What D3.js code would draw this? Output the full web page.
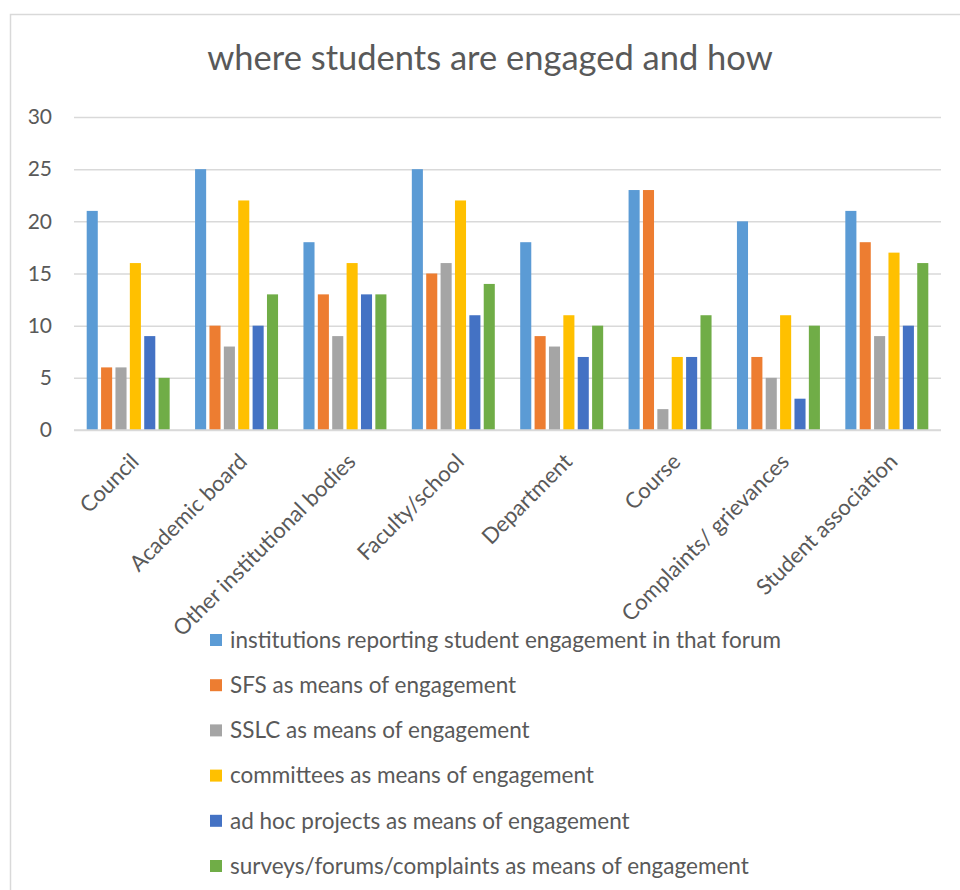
<!DOCTYPE html>
<html>
<head>
<meta charset="utf-8">
<script src="https://cdn.jsdelivr.net/npm/d3@7"></script>
<style>
  html, body { margin: 0; padding: 0; background: #fff; }
  svg { display: block; font-family: Lato, "Open Sans", sans-serif; }
</style>
</head>
<body>
<svg id="chart" width="960" height="890"></svg>
<script>
// Forums where students are engaged
const categories = [
  "Council", "Academic board", "Other institutional bodies", "Faculty/school",
  "Department", "Course", "Complaints/ grievances", "Student association"
];

// Engagement measures (one series each)
const seriesNames = [
  "institutions reporting student engagement in that forum",
  "SFS as means of engagement",
  "SSLC as means of engagement",
  "committees as means of engagement",
  "ad hoc projects as means of engagement",
  "surveys/forums/complaints as means of engagement"
];

const institutionsReporting = [21, 25, 18, 25, 18, 23, 20, 21];
const sfsMeans             = [6, 10, 13, 15, 9, 23, 7, 18];
const sslcMeans            = [6, 8, 9, 16, 8, 2, 5, 9];
const committeesMeans      = [16, 22, 16, 22, 11, 7, 11, 17];
const adHocMeans           = [9, 10, 13, 11, 7, 7, 3, 10];
const surveysMeans         = [5, 13, 13, 14, 10, 11, 10, 16];

const yTicks = [0, 5, 10, 15, 20, 25, 30];

const seriesColors = ["#5B9BD5", "#ED7D31", "#A5A5A5", "#FFC000", "#4472C4", "#70AD47"];

const seriesValues = [institutionsReporting, sfsMeans, sslcMeans, committeesMeans, adHocMeans, surveysMeans];

const svg = d3.select("#chart");
const textColor = "#595959";
const gridColor = "#d9d9d9";

// outer chart frame
svg.append("rect")
  .attr("x", 10.5).attr("y", 14.5)
  .attr("width", 970).attr("height", 900)
  .attr("fill", "#fff")
  .attr("stroke", gridColor).attr("stroke-width", 1.5);

// title
svg.append("text")
  .attr("x", 490).attr("y", 70)
  .attr("text-anchor", "middle")
  .attr("fill", textColor)
  .attr("font-size", 34.5)
  .text("where students are engaged and how");

const plot = { left: 74, right: 941, top: 117, bottom: 430 };

const y = d3.scaleLinear().domain([0, 30]).range([plot.bottom, plot.top]);

const x0 = d3.scaleBand().domain(categories).range([plot.left, plot.right]).padding(0);
const groupPad = 12.7;
const x1 = d3.scaleBand()
  .domain(d3.range(seriesNames.length))
  .range([groupPad, x0.bandwidth() - groupPad])
  .paddingInner(0.23)
  .paddingOuter(0);

// gridlines + y labels
const yAxis = d3.axisLeft(y).tickValues(yTicks).tickSize(-(plot.right - plot.left)).tickPadding(22);
const yg = svg.append("g")
  .attr("transform", `translate(${plot.left},0)`)
  .call(yAxis);
yg.select(".domain").remove();
yg.selectAll(".tick line").attr("stroke", gridColor).attr("stroke-width", 1.5);
yg.selectAll(".tick text")
  .attr("fill", textColor)
  .attr("font-size", 21)
  .attr("font-family", "Lato, 'Open Sans', sans-serif");

// bars
const rows = categories.map((c, i) => ({ category: c, values: seriesValues.map(s => s[i]) }));
const groups = svg.append("g").selectAll("g")
  .data(rows)
  .join("g")
  .attr("transform", d => `translate(${x0(d.category)},0)`);

groups.selectAll("rect")
  .data(d => d.values.map((v, k) => ({ k, v })))
  .join("rect")
  .attr("x", d => x1(d.k))
  .attr("width", x1.bandwidth())
  .attr("y", d => y(d.v))
  .attr("height", d => y(0) - y(d.v))
  .attr("fill", d => seriesColors[d.k]);

// category axis line
svg.append("line")
  .attr("x1", plot.left).attr("x2", plot.right)
  .attr("y1", y(0)).attr("y2", y(0))
  .attr("stroke", gridColor).attr("stroke-width", 1.5);

// rotated category labels
const xAxis = d3.axisBottom(x0).tickSize(0).tickPadding(0);
const xg = svg.append("g")
  .attr("transform", `translate(0,${plot.bottom})`)
  .call(xAxis);
xg.select(".domain").remove();
xg.selectAll(".tick text")
  .attr("fill", textColor)
  .attr("font-size", 22)
  .attr("font-family", "Lato, 'Open Sans', sans-serif")
  .attr("text-anchor", "end")
  .attr("dy", 0)
  .attr("y", 0)
  .attr("transform", "translate(12,33) rotate(-45)");

// legend
const legend = svg.append("g").attr("transform", "translate(210,640)");
const items = legend.selectAll("g")
  .data(seriesNames)
  .join("g")
  .attr("transform", (d, i) => `translate(0,${i * 45.2})`);
items.append("rect")
  .attr("x", 0).attr("y", -6)
  .attr("width", 12).attr("height", 12)
  .attr("fill", (d, i) => seriesColors[i]);
items.append("text")
  .attr("x", 20).attr("y", 0)
  .attr("dy", "0.35em")
  .attr("fill", textColor)
  .attr("font-size", 22.5)
  .text(d => d);
</script>
</body>
</html>
